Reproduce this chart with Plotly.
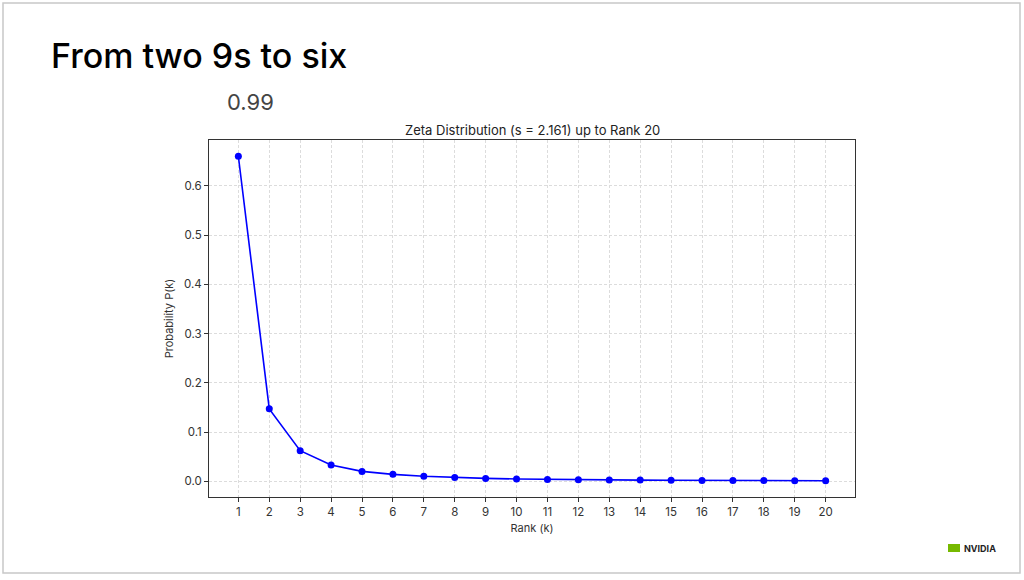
import plotly.graph_objects as go

ranks = list(range(1, 21))
probs = [0.660, 0.147, 0.062, 0.033, 0.020, 0.014, 0.010, 0.0075, 0.0058, 0.0046,
         0.0037, 0.0031, 0.0026, 0.0023, 0.0020, 0.0017, 0.0015, 0.0014, 0.0012, 0.0011]
y_ticks = [0.0, 0.1, 0.2, 0.3, 0.4, 0.5, 0.6]
y_tick_text = ["0.0", "0.1", "0.2", "0.3", "0.4", "0.5", "0.6"]

W, H = 1024, 580
def px(x):
    return x / W
def py(y):
    return 1 - y / H

fig = go.Figure()
fig.add_trace(go.Scatter(
    x=ranks, y=probs, mode="lines+markers",
    line=dict(color="#0000ff", width=1.6),
    marker=dict(color="#0000ff", size=7),
    showlegend=False, hoverinfo="skip",
))

axis_common = dict(
    showline=True, linecolor="#333333", linewidth=1, mirror=True,
    ticks="outside", ticklen=4, tickcolor="#333333",
    showgrid=True, gridcolor="#dcdcdc", griddash="3px,2px", gridwidth=1,
    zeroline=False,
    tickfont=dict(family="Inter", size=11.5, color="#333333"),
)

fig.update_layout(
    width=W, height=H,
    margin=dict(l=0, r=0, t=0, b=0),
    paper_bgcolor="white", plot_bgcolor="white",
    xaxis=dict(domain=[px(209), px(855)], range=[0.05, 20.95],
               tickmode="array", tickvals=ranks, ticktext=[str(r) for r in ranks],
               title=dict(text="Rank (k)", font=dict(family="Inter", size=11, color="#333333"), standoff=6),
               **axis_common),
    yaxis=dict(domain=[py(497), py(140)], range=[-0.032, 0.693],
               tickmode="array", tickvals=y_ticks, ticktext=y_tick_text,
               title=dict(text="Probability P(k)", font=dict(family="Inter", size=11, color="#333333"), standoff=8),
               **axis_common),
    font=dict(family="Inter"),
)

# Slide border
fig.add_shape(type="rect", xref="paper", yref="paper",
              x0=px(3), x1=px(1020), y0=py(573), y1=py(3),
              line=dict(color="#c8c8c8", width=1.5), fillcolor="rgba(0,0,0,0)", layer="below")

annotations = [
    dict(text="From two 9s to six", x=px(49), y=py(55), xanchor="left", yanchor="middle",
         font=dict(family="Inter", size=34, color="#000000", weight=500)),
    dict(text="0.99", x=px(225), y=py(102), xanchor="left", yanchor="middle",
         font=dict(family="Inter", size=22, color="#444444")),
    dict(text="Zeta Distribution (s = 2.161) up to Rank 20", x=px(532), y=py(130),
         xanchor="center", yanchor="middle",
         font=dict(family="Inter", size=13, color="#222222")),
    dict(text="<b>NVIDIA</b>", x=px(962), y=py(548), xanchor="left", yanchor="middle",
         font=dict(family="Inter", size=9, color="#222222")),
]
for a in annotations:
    a.update(xref="paper", yref="paper", showarrow=False)
    fig.add_annotation(**a)

# NVIDIA eye mark
fig.add_shape(type="rect", xref="paper", yref="paper",
              x0=px(948), x1=px(960), y0=py(552), y1=py(544),
              line=dict(width=0), fillcolor="#76b900")

fig.write_html("out.html")
